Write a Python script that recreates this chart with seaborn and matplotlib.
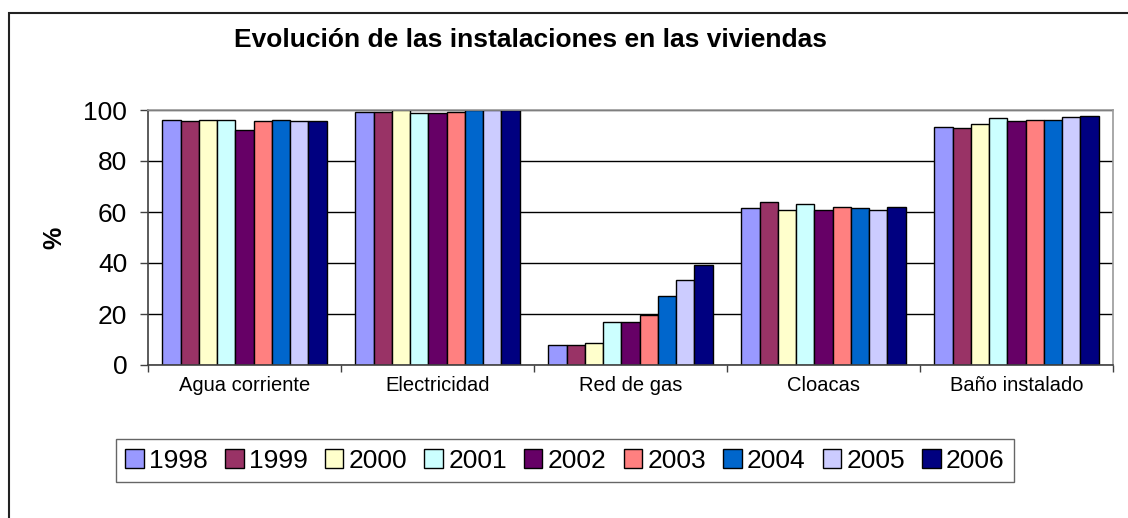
import matplotlib
matplotlib.use("Agg")
import matplotlib.pyplot as plt
import matplotlib.patches as mpatches
import numpy as np
import pandas as pd
import seaborn as sns

categorias = ['Agua corriente', 'Electricidad', 'Red de gas', 'Cloacas', 'Baño instalado']
anios = ['1998', '1999', '2000', '2001', '2002', '2003', '2004', '2005', '2006']

agua = [96.1, 95.6, 96.1, 96.1, 92.2, 95.6, 96.1, 95.6, 95.6]
electricidad = [99.4, 99.4, 100.0, 98.7, 98.7, 99.4, 99.9, 99.9, 99.9]
gas = [7.8, 7.8, 8.5, 17.0, 17.0, 19.7, 26.9, 33.4, 39.2]
cloacas = [61.4, 64.1, 60.7, 63.3, 60.7, 61.9, 61.4, 60.7, 62.0]
bano = [93.3, 92.8, 94.6, 96.7, 95.6, 96.2, 96.2, 97.3, 97.5]

colores = ['#9999FF', '#993366', '#FFFFCC', '#CCFFFF', '#660066',
           '#FF8080', '#0066CC', '#CCCCFF', '#000080']

valores = [agua, electricidad, gas, cloacas, bano]
filas = []
for cat, vals in zip(categorias, valores):
    for a, v in zip(anios, vals):
        filas.append({'cat': cat, 'anio': a, 'pct': v})
df = pd.DataFrame(filas)

sns.set_style("white")
plt.rcParams['font.family'] = ['Liberation Sans', 'DejaVu Sans']
plt.rcParams['text.color'] = 'black'
plt.rcParams['axes.labelcolor'] = 'black'
plt.rcParams['xtick.color'] = 'black'
plt.rcParams['ytick.color'] = 'black'

fig = plt.figure(figsize=(11.28, 5.18), dpi=100)
ax = fig.add_axes([148/1128, 1 - 365/518, (1113 - 148)/1128, (365 - 110)/518])

sns.barplot(data=df, x='cat', y='pct', hue='anio', palette=colores,
            width=0.85, edgecolor='black', linewidth=1.0, saturation=1,
            ax=ax, legend=True)

ax.set_ylim(0, 100)
ax.set_xlim(-0.5, 4.5)
ax.set_yticks([0, 20, 40, 60, 80, 100])
ax.tick_params(axis='y', labelsize=19, length=6, width=1, color='#404040',
               labelcolor='black', left=True, pad=9)
ax.set_xticks(range(5))
ax.set_xticklabels(categorias, fontsize=14.5)
ax.tick_params(axis='x', length=0, pad=8, labelcolor='black')
ax.set_xticks(np.arange(-0.5, 5.0, 1.0), minor=True)
ax.tick_params(axis='x', which='minor', length=5, width=1, color='#404040',
               bottom=True)
ax.set_axisbelow(True)
ax.yaxis.grid(True, color='black', linewidth=1)
ax.xaxis.grid(False)
ax.set_xlabel('')
ax.set_ylabel('%', fontsize=18, fontweight='bold', labelpad=12)

for s in ['top', 'right']:
    ax.spines[s].set_visible(True)
    ax.spines[s].set_color('#999999')
    ax.spines[s].set_linewidth(1.2)
for s in ['left', 'bottom']:
    ax.spines[s].set_color('#404040')
    ax.spines[s].set_linewidth(1.2)

handles, labels = ax.get_legend_handles_labels()
ax.get_legend().remove()
leg = fig.legend(handles, labels, loc='center', bbox_to_anchor=(565/1128, 1 - 460.5/518),
                 ncol=9, fontsize=19, frameon=True, fancybox=False,
                 handlelength=0.7, handleheight=0.7, handletextpad=0.2,
                 columnspacing=0.65, borderpad=0.35, edgecolor='#404040')
leg.get_frame().set_linewidth(1.0)

fig.text(531/1128, 1 - 40/518, 'Evolución de las instalaciones en las viviendas',
         ha='center', va='center', fontsize=19, fontweight='bold')

marco = mpatches.Rectangle((8.5/1128, -0.2), 1.2, 1.2 - 13/518, transform=fig.transFigure,
                           fill=False, edgecolor='#222222', linewidth=1.5)
fig.patches.append(marco)

fig.savefig('out.png', dpi=100, facecolor='white')
